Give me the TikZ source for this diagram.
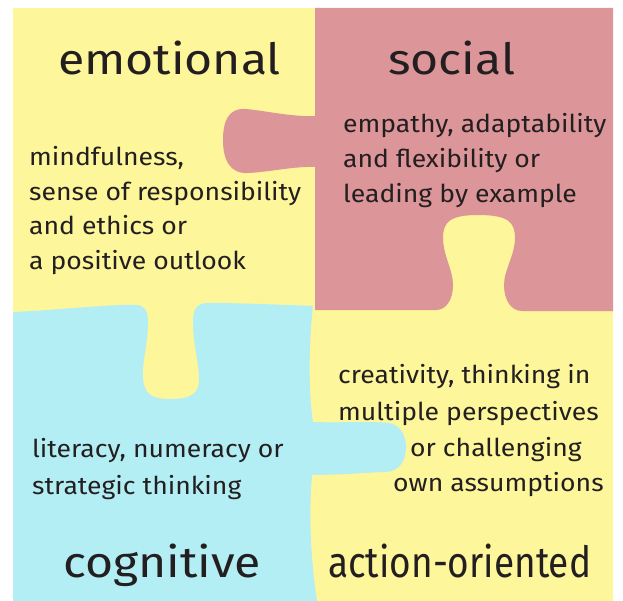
\documentclass[tikz,border=0pt]{standalone}
\usepackage{fontspec}
\setmainfont{Fira Sans}
\newfontfamily\headfont[FakeStretch=1.12]{Fira Sans}
\newfontfamily\narrowheadfont[FakeStretch=0.86]{Fira Sans}
\newfontfamily\bodyfont[FakeStretch=1.08]{Fira Sans}
\begin{document}
\begin{tikzpicture}[x=1pt,y=-1pt,
  headword/.style={inner sep=0pt,anchor=base west,text=inkgray,font=\headfont\fontsize{43}{43}\selectfont},
  narrowhead/.style={headword,font=\narrowheadfont\fontsize{43}{43}\selectfont},
  bodyline/.style={inner sep=0pt,anchor=base west,text=inkgray,font=\bodyfont\fontsize{24.6}{30}\selectfont}]
\definecolor{pieceyellow}{HTML}{FDF69A}
\definecolor{piecepink}{HTML}{DC9599}
\definecolor{pieceblue}{HTML}{B3EEF4}
\definecolor{inkgray}{HTML}{231F20}
\useasboundingbox (0,0) rectangle (623,601);
\fill[white] (0,0) rectangle (623,601);

% emotional and action-oriented pieces share the yellow base
\fill[pieceyellow] (13,8) rectangle (613,601);

% social piece (top right): tab out to the left, yellow tab cut from below
\fill[piecepink] (613,8) -- (315,8) -- (315,116)
  .. controls (290,117) and (262,110) .. (245,109)
  .. controls (228,108) and (223,122) .. (223,140)
  .. controls (223,160) and (230,174) .. (248,173)
  .. controls (270,172) and (295,166) .. (315,167)
  -- (315,310) -- (436,310)
  .. controls (446,310) and (453,300) .. (453,285)
  .. controls (453,270) and (443,255) .. (443,238)
  .. controls (443,222) and (450,215) .. (478,215)
  .. controls (508,215) and (515,222) .. (515,238)
  .. controls (515,255) and (504,270) .. (504,285)
  .. controls (504,300) and (511,311) .. (522,311)
  -- (613,311) -- cycle;

% cognitive piece (bottom left): yellow tab cut from above, tab out to the right
\fill[pieceblue] (13,312)
  .. controls (60,310) and (110,304) .. (136,305)
  .. controls (144,305) and (148,310) .. (148,322)
  .. controls (148,345) and (142,360) .. (143,378)
  .. controls (144,393) and (150,399) .. (170,399)
  .. controls (192,399) and (199,393) .. (199,380)
  .. controls (199,362) and (193,345) .. (193,322)
  .. controls (193,310) and (196,303) .. (208,303)
  .. controls (240,303) and (290,305) .. (313,306)
  .. controls (309,340) and (308,390) .. (313,422)
  .. controls (340,423) and (370,421) .. (388,423)
  .. controls (400,424) and (406,435) .. (406,447)
  .. controls (406,462) and (398,472) .. (385,472)
  .. controls (360,473) and (335,475) .. (312,475)
  .. controls (308,520) and (312,570) .. (317,601)
  -- (13,601) -- cycle;

% headings
\node[headword] (emotional) at (58,75) {emotional};
\node[headword] (social) at (388,75) {social};
\node[headword] (cognitive) at (63,577) {cognitive};
\node[narrowhead] (action) at (328,577) {action-oriented};

% emotional
\node[bodyline] (em1) at (29,166) {mindfulness,};
\node[bodyline] (em2) at (29,201) {sense of responsibility};
\node[bodyline] (em3) at (29,235) {and ethics or};
\node[bodyline] (em4) at (29,270) {a positive outlook};

% social
\node[bodyline] (so1) at (343,133) {empathy, adaptability};
\node[bodyline] (so2) at (343,168) {and flexibility or};
\node[bodyline] (so3) at (343,203) {leading by example};

% action-oriented
\node[bodyline] (ac1) at (338,383) {creativity, thinking in};
\node[bodyline] (ac2) at (338,420) {multiple perspectives};
\node[bodyline] (ac3) at (410,456) {or challenging};
\node[bodyline] (ac4) at (393,491) {own assumptions};

% cognitive
\node[bodyline] (co1) at (32,457) {literacy, numeracy or};
\node[bodyline] (co2) at (32,494) {strategic thinking};
\end{tikzpicture}
\end{document}
